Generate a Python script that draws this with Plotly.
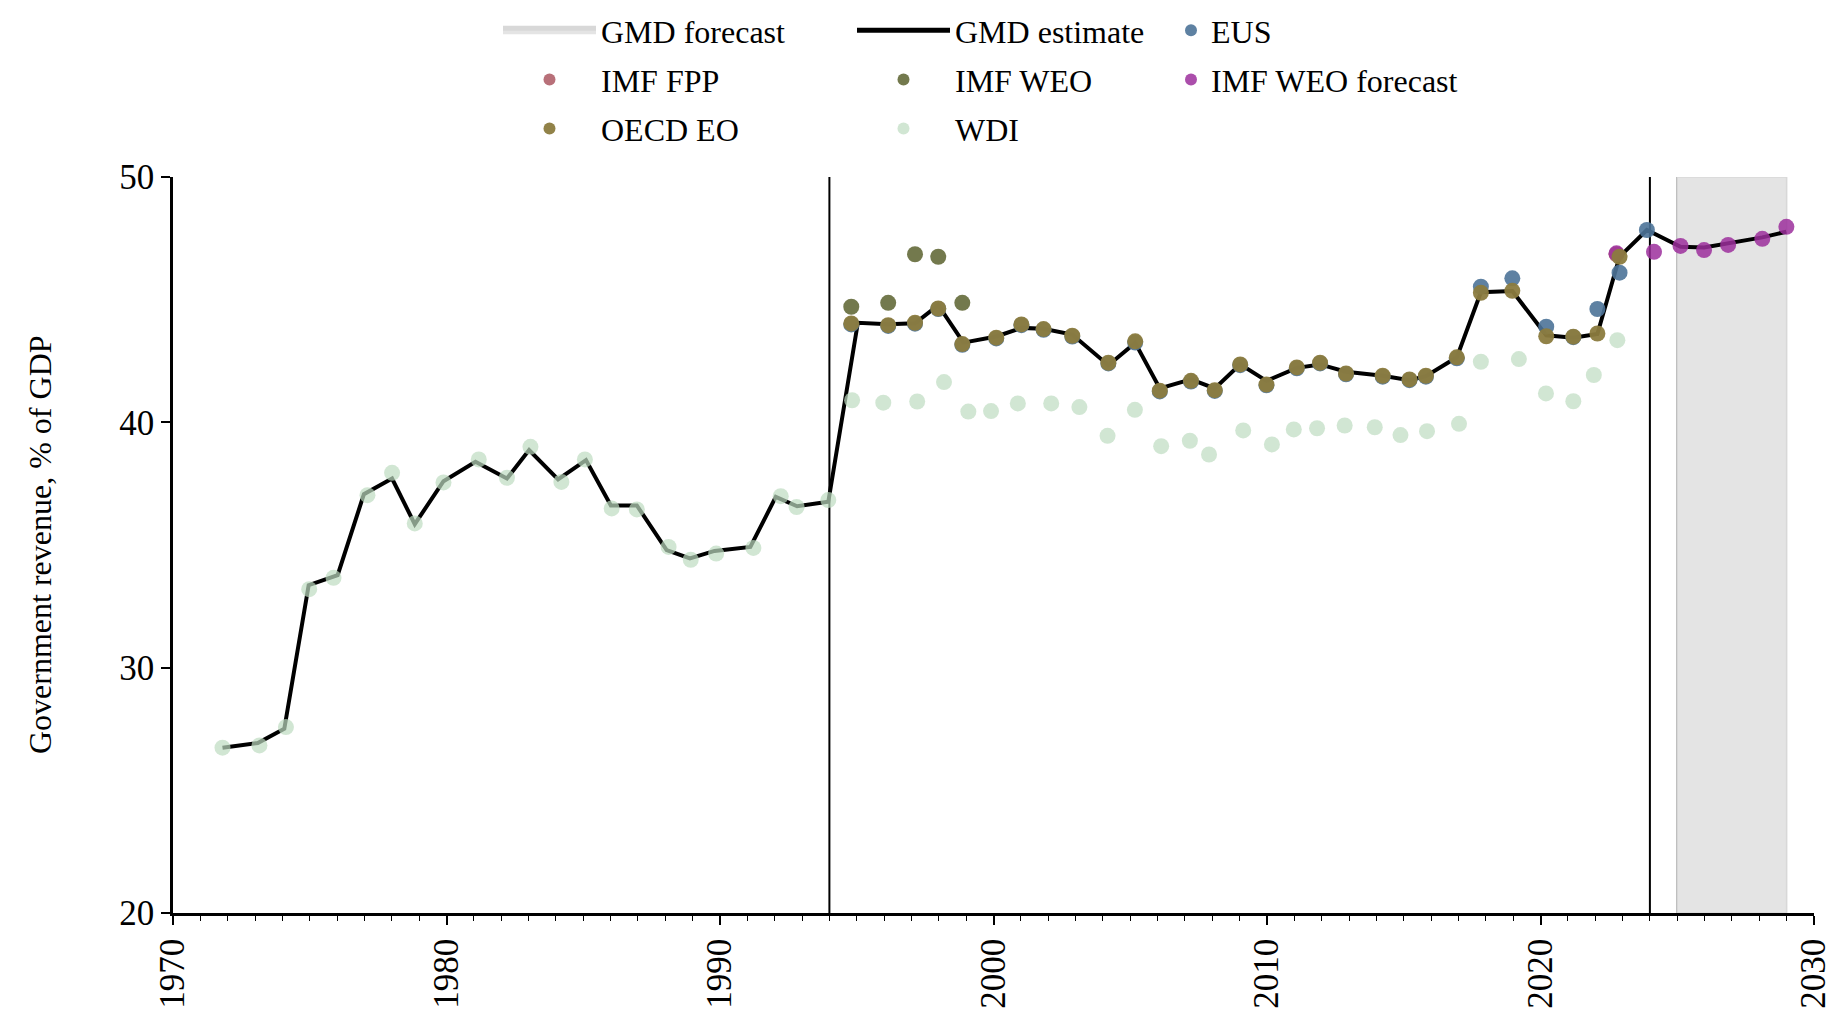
import plotly.graph_objects as go

# ---------------- data ----------------
gmd_years = [1971.81, 1973.10, 1974.07, 1974.96, 1976.02, 1976.98, 1978.01, 1978.84, 1979.89,
             1981.06, 1982.21, 1983.02, 1984.08, 1985.10, 1986.01, 1986.96, 1988.05, 1988.90,
             1989.80, 1991.11, 1992.04, 1992.82, 1993.96, 1995.04, 1996.15, 1997.13, 1997.98,
             1998.90, 2000.10, 2001.02, 2001.83, 2002.88, 2004.20, 2005.18, 2006.08, 2007.22,
             2008.09, 2009.02, 2009.98, 2011.09, 2011.94, 2012.89, 2014.23, 2015.21, 2015.81,
             2016.94, 2017.82, 2018.97, 2020.21, 2021.20, 2022.08, 2022.89, 2023.89, 2025.12,
             2025.98, 2026.86, 2028.11, 2028.99]
gmd_values = [26.74, 26.93, 27.51, 33.36, 33.77, 37.07, 37.71, 35.85, 37.60,
              38.39, 37.71, 38.87, 37.67, 38.46, 36.61, 36.61, 34.79, 34.45,
              34.76, 34.92, 36.96, 36.58, 36.76, 44.06, 44.00, 44.04, 44.78,
              43.25, 43.50, 43.85, 43.81, 43.58, 42.33, 43.24, 41.38, 41.75,
              41.38, 42.37, 41.69, 42.22, 42.36, 42.06, 41.90, 41.72, 41.88,
              42.65, 45.30, 45.35, 43.55, 43.45, 43.60, 46.75, 47.84, 47.16,
              47.13, 47.30, 47.54, 47.77]

wdi_years = [1971.81, 1973.16, 1974.13, 1974.98, 1975.87, 1977.11, 1978.01, 1978.84, 1979.89,
             1981.18, 1982.21, 1983.07, 1984.20, 1985.06, 1986.04, 1986.96, 1988.12, 1988.93,
             1989.86, 1991.22, 1992.22, 1992.80, 1993.96, 1994.83, 1995.97, 1997.21, 1998.19,
             1999.08, 1999.91, 2000.89, 2002.11, 2003.14, 2004.17, 2005.17, 2006.13, 2007.18,
             2007.88, 2009.13, 2010.18, 2010.98, 2011.83, 2012.84, 2013.94, 2014.88, 2015.85,
             2017.02, 2017.82, 2019.21, 2020.20, 2021.20, 2021.95, 2022.81]
wdi_values = [26.74, 26.83, 27.58, 33.20, 33.66, 37.03, 37.94, 35.88, 37.55,
              38.49, 37.74, 39.00, 37.57, 38.49, 36.49, 36.45, 34.92, 34.40,
              34.65, 34.88, 36.99, 36.55, 36.83, 40.90, 40.80, 40.85, 41.64,
              40.44, 40.46, 40.77, 40.77, 40.62, 39.45, 40.51, 39.03, 39.25,
              38.69, 39.67, 39.10, 39.71, 39.76, 39.87, 39.80, 39.48, 39.64,
              39.94, 42.47, 42.58, 41.18, 40.86, 41.93, 43.35]

imf_weo_years = [1994.80, 1996.15, 1997.13, 1997.98, 1998.86]
imf_weo_values = [44.71, 44.87, 46.85, 46.75, 44.87]

oecd_years = [1994.80, 1996.15, 1997.13, 1997.98, 1998.86, 2000.10, 2001.02, 2001.83, 2002.88,
              2004.20, 2005.18, 2006.08, 2007.22, 2008.09, 2009.02, 2009.98, 2011.09, 2011.94,
              2012.89, 2014.23, 2015.21, 2015.81, 2016.94, 2017.82, 2018.97, 2020.21, 2021.20,
              2022.08, 2022.89]
oecd_values = [44.03, 43.96, 44.06, 44.64, 43.19, 43.45, 43.99, 43.80, 43.53,
               42.43, 43.30, 41.29, 41.69, 41.31, 42.36, 41.54, 42.24, 42.43,
               41.99, 41.90, 41.75, 41.90, 42.65, 45.28, 45.36, 43.51, 43.49,
               43.62, 46.75]

eus_years = [1994.80, 1996.15, 1997.13, 1997.98, 1998.86, 2000.10, 2001.02, 2001.83, 2002.88,
             2004.20, 2005.18, 2006.08, 2007.22, 2008.09, 2009.02, 2009.98, 2011.09, 2011.94,
             2012.89, 2014.23, 2015.21, 2015.81, 2016.94, 2017.82, 2018.97, 2020.21, 2021.20,
             2022.08, 2022.89, 2023.89]
eus_values = [43.99, 43.93, 44.02, 44.62, 43.16, 43.42, 43.96, 43.77, 43.50,
              42.40, 43.25, 41.26, 41.66, 41.28, 42.33, 41.51, 42.20, 42.40,
              41.96, 41.86, 41.72, 41.86, 42.61, 45.53, 45.87, 43.90, 43.47,
              44.62, 46.10, 47.84]

imf_fpp_years = [2022.78]
imf_fpp_values = [46.85]

imf_weo_fc_years = [2022.78, 2024.15, 2025.12, 2025.98, 2026.86, 2028.11, 2028.99]
imf_weo_fc_values = [46.89, 46.95, 47.19, 47.02, 47.23, 47.48, 47.97]

forecast_span = [2025, 2029]
x_range = [1970, 2030]
y_range = [20, 50]
x_ticks = [1970, 1980, 1990, 2000, 2010, 2020, 2030]
y_ticks = [20, 30, 40, 50]
ref_lines = [1994, 2024]
forecast_start = 2025
y_title = "Government revenue, % of GDP"

SERIF = "Liberation Serif"
LEG_FONT = dict(family=SERIF, size=32, color="black")
MS = 16

# the page body adds an 8px margin, so the figure is 8px smaller than the window
W, H = 1829, 1009
ML, MR, MT, MB = 165, 23, 169, 104
PLOT_H = H - MT - MB

fig = go.Figure()

# GMD forecast shaded band
fig.add_trace(go.Scatter(
    x=[forecast_span[0], forecast_span[1], forecast_span[1], forecast_span[0], forecast_span[0]],
    y=[y_range[0], y_range[0], y_range[1], y_range[1], y_range[0]],
    mode="lines", fill="toself", fillcolor="#e4e4e4",
    line=dict(color="#d8d8d8", width=1.5),
    name="GMD forecast", legend="legend", legendgroup="g1", hoverinfo="skip"))

fig.add_trace(go.Scatter(
    x=gmd_years, y=gmd_values, mode="lines",
    line=dict(color="black", width=4),
    name="GMD estimate", legend="legend2", legendgroup="g2"))

fig.add_trace(go.Scatter(
    x=eus_years, y=eus_values, mode="markers",
    marker=dict(color="#4d7398", size=MS, opacity=0.9, line=dict(width=0)),
    name="EUS", legend="legend3", legendgroup="g3"))

fig.add_trace(go.Scatter(
    x=imf_fpp_years, y=imf_fpp_values, mode="markers",
    marker=dict(color="#b0606a", size=MS, opacity=0.9, line=dict(width=0)),
    name="IMF FPP", legend="legend", legendgroup="g4"))

fig.add_trace(go.Scatter(
    x=imf_weo_years, y=imf_weo_values, mode="markers",
    marker=dict(color="#6b7243", size=MS, opacity=0.95, line=dict(width=0)),
    name="IMF WEO", legend="legend2", legendgroup="g5"))

fig.add_trace(go.Scatter(
    x=imf_weo_fc_years, y=imf_weo_fc_values, mode="markers",
    marker=dict(color="#9c2f9c", size=MS, opacity=0.85, line=dict(width=0)),
    name="IMF WEO forecast", legend="legend3", legendgroup="g6"))

fig.add_trace(go.Scatter(
    x=oecd_years, y=oecd_values, mode="markers",
    marker=dict(color="#8b7b3e", size=MS, opacity=0.95, line=dict(width=0)),
    name="OECD EO", legend="legend", legendgroup="g7"))

fig.add_trace(go.Scatter(
    x=wdi_years, y=wdi_values, mode="markers",
    marker=dict(color="rgb(190,220,192)", size=MS, opacity=0.7, line=dict(width=0)),
    name="WDI", legend="legend2", legendgroup="g8"))

for xv in ref_lines:
    fig.add_vline(x=xv, line=dict(color="black", width=2), layer="below")
fig.add_vline(x=forecast_start, line=dict(color="#8a8a8a", width=2), layer="below")

def leg(xpx, itemw):
    return dict(xref="container", yref="paper", x=xpx / W, y=1 + (MT + 5) / PLOT_H,
                xanchor="left", yanchor="top", orientation="v",
                itemwidth=itemw, font=LEG_FONT, bgcolor="rgba(0,0,0,0)",
                tracegroupgap=4.5, borderwidth=0, itemsizing="constant")

fig.update_layout(
    width=W, height=H,
    template="none",
    paper_bgcolor="white", plot_bgcolor="white",
    margin=dict(l=ML, r=MR, t=MT, b=MB, autoexpand=False),
    showlegend=True,
    legend=leg(490, 93),
    legend2=leg(844, 93),
    legend3=leg(1163, 30),
    font=dict(family=SERIF, color="black"),
    annotations=[dict(text=y_title, xref="paper", yref="paper",
                      x=(32 - ML) / (W - ML - MR), y=0.5, textangle=-90,
                      xanchor="center", yanchor="middle", showarrow=False,
                      font=dict(family=SERIF, size=32, color="black"))],
)

fig.update_xaxes(
    range=x_range, tickmode="array", tickvals=x_ticks,
    ticks="outside", ticklen=9, tickwidth=1.5, tickcolor="black",
    minor=dict(dtick=1, tick0=1970, ticks="outside", ticklen=5, tickwidth=1, tickcolor="black", showgrid=False),
    showline=True, linecolor="black", linewidth=2.5,
    tickangle=-90, tickfont=dict(family=SERIF, size=35, color="black"),
    showgrid=False, zeroline=False, automargin=False)

fig.update_yaxes(
    range=y_range, tickmode="array", tickvals=y_ticks,
    ticks="outside", ticklen=9, tickwidth=1.5, tickcolor="black",
    showline=True, linecolor="black", linewidth=2.5,
    tickfont=dict(family=SERIF, size=35, color="black"),
    showgrid=False, zeroline=False, automargin=False)

fig.write_html("out.html")
